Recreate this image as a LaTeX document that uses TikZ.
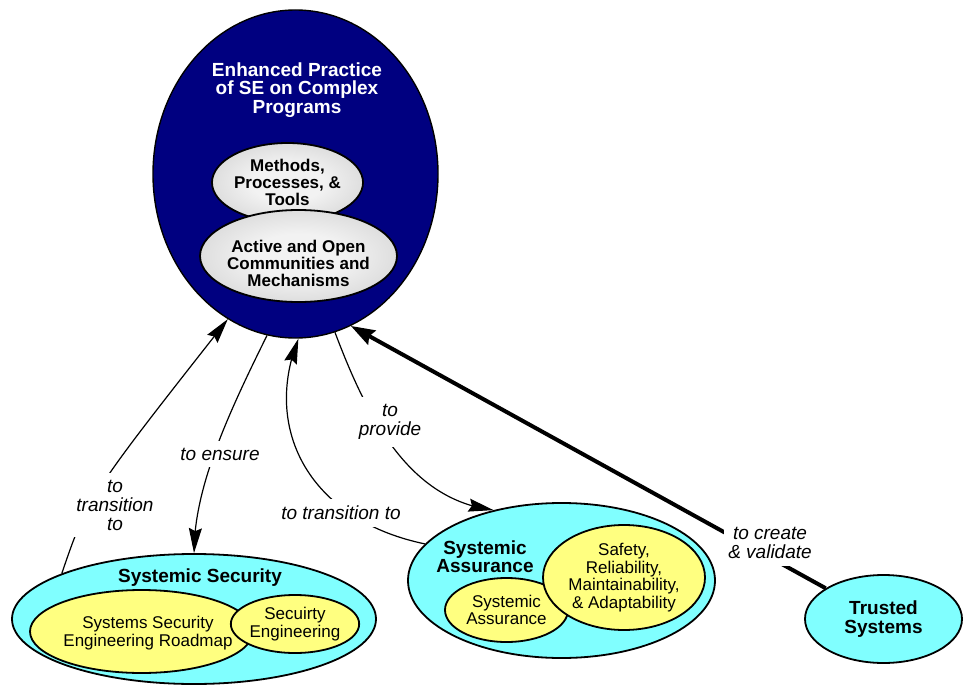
\documentclass[tikz,border=0pt]{standalone}
\usepackage{fontspec}
\setmainfont{Liberation Sans}
\usetikzlibrary{shapes.geometric,arrows.meta,bending}
\definecolor{navyfill}{RGB}{0,0,128}
\definecolor{cyanfill}{RGB}{128,255,255}
\definecolor{yellowfill}{RGB}{255,255,128}
\definecolor{grayin}{RGB}{242,242,242}
\definecolor{graymid}{RGB}{205,205,205}
\definecolor{grayout}{RGB}{150,150,150}
\pgfdeclareradialshading{grayball}{\pgfpoint{0bp}{0bp}}{%
  color(0bp)=(grayin); color(12bp)=(grayin); color(36bp)=(graymid);
  color(50bp)=(grayout)}

\begin{document}
\begin{tikzpicture}[x=1pt,y=-1pt,
  oval/.style 2 args={ellipse, draw=black, line width=1.8pt, inner sep=0pt,
    minimum width=#1pt, minimum height=#2pt},
  grayoval/.style={shading=grayball},
  ttl/.style={font=\fontsize{19}{18.3}\selectfont\bfseries, align=center, inner sep=0pt},
  grayt/.style={font=\fontsize{17}{17}\selectfont\bfseries, align=center, inner sep=0pt},
  sub/.style={font=\fontsize{17}{17.5}\selectfont, align=center, inner sep=0pt},
  lbl/.style={font=\fontsize{19}{19}\selectfont\itshape, align=center, fill=white,
    inner xsep=4pt, inner ysep=7pt},
  con/.style={line width=1.2pt},
  arr/.style={-{Stealth[length=25pt,width=13pt,inset=3pt]}},
  thickarr/.style={line width=4pt, -{Stealth[length=24pt,width=16pt,inset=3pt]}}
]
\useasboundingbox (0,0) rectangle (964,685);

% central goal with its two inner bubbles
\node[oval={285}{328}, fill=navyfill, line width=1.4pt] (main) at (295.5,174) {};
\node[ttl, text=white] (maintxt) at (297,90) {Enhanced Practice\\of SE on Complex\\Programs};
\node[oval={131}{79}, grayoval, grayt] (mpt) at (287.5,182.5) {Methods,\\Processes, \&\\Tools};
\node[oval={197}{92}, grayoval] (comm) at (298.5,256) {};
\node[grayt] (commtxt) at (298.5,263) {Active and Open\\Communities and\\Mechanisms};

% systemic security
\node[oval={364}{130}, fill=cyanfill] (ss) at (194,619) {};
\node[ttl] (sstxt) at (200,578) {Systemic Security};
\node[oval={223}{83}, fill=yellowfill] (road) at (141.5,631.5) {};
\node[sub] (roadtxt) at (148,633) {Systems Security\\Engineering Roadmap};
\node[oval={126}{58}, fill=yellowfill, sub] (seceng) at (295,624) {Secuirty\\Engineering};

% systemic assurance
\node[oval={307}{155}, fill=cyanfill] (sa) at (561.5,580.5) {};
\node[ttl] (satxt) at (485,557) {Systemic\\Assurance};
\node[oval={123}{64}, fill=yellowfill, sub] (sasub) at (506.5,610) {Systemic\\Assurance};
\node[oval={162}{105}, fill=yellowfill, sub] (safety) at (624,577.5) {Safety,\\Reliability,\\Maintainability,\\\& Adaptability};

% trusted systems
\node[oval={157}{88}, fill=cyanfill, ttl] (ts) at (883.5,619) {Trusted\\Systems};

% connectors
\draw[con,arr] (ss.161) .. controls (88,497) .. (main.245);
\draw[con,arr] (main.260) .. controls (225,420) and (194,490) .. (ss.north);
\draw[con,arr] (sa.165) .. controls (310,520) and (262,430) .. (main.271);
\draw[con,arr] (main.284) .. controls (368,420) and (410,500) .. (sa.134);
\draw[thickarr] (ts.152) -- (main.290);

% connector labels
\node[lbl] (labA) at (115,505) {to\\transition\\to};
\node[lbl] (labB) at (220,454) {to ensure};
\node[lbl] (labC) at (341,513) {to transition to};
\node[lbl] (labD) at (390,422) {to\\provide};
\node[lbl] (labE) at (770,543) {to create\\\& validate};
\end{tikzpicture}
\end{document}
